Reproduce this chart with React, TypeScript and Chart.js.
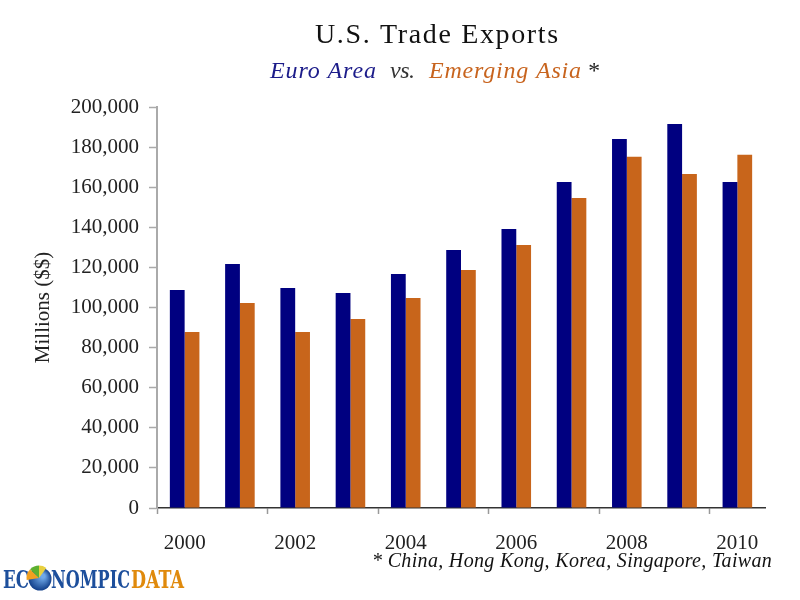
import { useEffect, useRef } from 'react';
import { Chart, registerables } from 'chart.js';

Chart.register(...registerables);

const years = ['2000', '2001', '2002', '2003', '2004', '2005', '2006', '2007', '2008', '2009', '2010'];
const euroArea = [108700, 121700, 109700, 107200, 116700, 128700, 139200, 162600, 184000, 191500, 162600];
const emergingAsia = [87800, 102200, 87800, 94300, 104700, 118700, 131200, 154600, 175200, 166600, 176200];
const yMin = 0;
const yMax = 200000;
const yStep = 20000;

const TITLE = 'U.S. Trade Exports';
const SUB_EURO = 'Euro Area';
const SUB_VS = 'vs.';
const SUB_ASIA = 'Emerging Asia';
const SUB_STAR = '*';
const FOOTNOTE = '* China, Hong Kong, Korea, Singapore, Taiwan';
const Y_TITLE = 'Millions ($$)';

const SERIF = '"Liberation Serif", "Times New Roman", serif';
const NAVY = '#000080';
const ORANGE = '#C8651B';

function fitText(ctx: CanvasRenderingContext2D, text: string, x: number, y: number, width: number) {
  (ctx as any).letterSpacing = '0px';
  ctx.textAlign = 'left';
  const w = ctx.measureText(text).width;
  const n = Math.max(1, text.length - 1);
  const ls = (width - w) / n;
  (ctx as any).letterSpacing = ls.toFixed(2) + 'px';
  ctx.fillText(text, x, y);
  (ctx as any).letterSpacing = '0px';
}

function scaleText(ctx: CanvasRenderingContext2D, text: string, x: number, y: number, width: number) {
  ctx.textAlign = 'left';
  const w = ctx.measureText(text).width;
  ctx.save();
  ctx.translate(x, y);
  ctx.scale(width / w, 1);
  ctx.fillText(text, 0, 0);
  ctx.restore();
}

const decor = {
  id: 'decor',
  afterDraw(chart: any) {
    const ctx: CanvasRenderingContext2D = chart.ctx;
    ctx.save();
    ctx.textBaseline = 'alphabetic';

    // Title
    ctx.font = `28px ${SERIF}`;
    ctx.fillStyle = '#111111';
    fitText(ctx, TITLE, 315, 43, 243);

    // Subtitle
    ctx.font = `italic 24px ${SERIF}`;
    ctx.fillStyle = '#1c1c8a';
    fitText(ctx, SUB_EURO, 270, 78, 106);
    ctx.fillStyle = '#333333';
    fitText(ctx, SUB_VS, 390, 78, 25);
    ctx.fillStyle = '#C8641E';
    fitText(ctx, SUB_ASIA, 429, 78, 152);
    ctx.fillStyle = '#222222';
    ctx.fillText(SUB_STAR, 587, 78);

    // Footnote
    ctx.font = `italic 20px ${SERIF}`;
    ctx.fillStyle = '#111111';
    fitText(ctx, FOOTNOTE, 372, 567, 400);

    // Logo
    ctx.font = `bold 24px "DejaVu Serif Condensed", "DejaVu Serif", serif`;
    ctx.fillStyle = '#1d4f9c';
    scaleText(ctx, 'EC', 3, 588, 26);
    scaleText(ctx, 'NOMPIC', 51, 588, 79);
    ctx.fillStyle = '#e08a0c';
    scaleText(ctx, 'DATA', 131, 588, 53);

    // Globe "O"
    const gx = 40, gy = 579, r = 11.5;
    const grad = ctx.createRadialGradient(gx + 3, gy - 3, 2, gx, gy, r);
    grad.addColorStop(0, '#6fa8e8');
    grad.addColorStop(1, '#123f8a');
    ctx.beginPath();
    ctx.arc(gx, gy, r, 0, Math.PI * 2);
    ctx.fillStyle = grad;
    ctx.fill();
    const wedge = (a0: number, a1: number, color: string) => {
      ctx.beginPath();
      ctx.moveTo(gx - 1, gy - 1);
      ctx.arc(gx - 1, gy - 1, r + 1, a0, a1);
      ctx.closePath();
      ctx.fillStyle = color;
      ctx.fill();
    };
    wedge(Math.PI * 0.95, Math.PI * 1.25, '#f0a020');
    wedge(Math.PI * 1.25, Math.PI * 1.5, '#5cb030');
    wedge(Math.PI * 1.5, Math.PI * 1.7, '#e8d040');

    ctx.restore();
  },
};

export default function App() {
  const canvasRef = useRef<HTMLCanvasElement | null>(null);

  useEffect(() => {
    document.body.style.margin = '0';
    const canvas = canvasRef.current;
    if (!canvas) return;
    const chart = new Chart(canvas, {
      type: 'bar',
      data: {
        labels: years,
        datasets: [
          {
            label: 'Euro Area',
            data: euroArea,
            backgroundColor: NAVY,
            borderWidth: 0,
            barPercentage: 1,
            categoryPercentage: 0.535,
          },
          {
            label: 'Emerging Asia',
            data: emergingAsia,
            backgroundColor: ORANGE,
            borderWidth: 0,
            barPercentage: 1,
            categoryPercentage: 0.535,
          },
        ],
      },
      options: {
        responsive: false,
        animation: false,
        layout: { padding: { top: 107, right: 35, left: 0, bottom: 0 } },
        plugins: {
          legend: { display: false },
          title: { display: false },
          tooltip: { enabled: false },
        },
        scales: {
          x: {
            grid: {
              offset: true,
              drawOnChartArea: false,
              drawTicks: true,
              tickLength: 6,
              tickWidth: 1.5,
              tickColor: (c: any) => (c.index !== undefined && c.index % 2 === 0 ? '#999999' : 'rgba(0,0,0,0)'),
            },
            border: { color: '#333333', width: 1.5 },
            ticks: {
              autoSkip: false,
              maxRotation: 0,
              minRotation: 0,
              padding: 17,
              color: '#222222',
              font: { family: SERIF, size: 21 },
              callback: (_v: any, i: number) => (i % 2 === 0 ? years[i] : ''),
            },
            afterFit: (s: any) => {
              s.height = 92;
            },
          },
          y: {
            min: yMin,
            max: yMax,
            ticks: {
              stepSize: yStep,
              padding: 10,
              color: '#222222',
              font: { family: SERIF, size: 21 },
              callback: (v: any) => Number(v).toLocaleString('en-US'),
            },
            grid: {
              drawOnChartArea: false,
              drawTicks: true,
              tickLength: 8,
              tickWidth: 1.5,
              tickColor: '#aaaaaa',
            },
            border: { color: '#aaaaaa', width: 2 },
            title: {
              display: true,
              text: Y_TITLE,
              color: '#222222',
              font: { family: SERIF, size: 21 },
              padding: { top: 31, bottom: 0 },
            },
            afterFit: (s: any) => {
              s.width = 157;
            },
          },
        },
      },
      plugins: [decor],
    });
    return () => chart.destroy();
  }, []);

  return (
    <div style={{ width: 800, height: 600 }}>
      <canvas ref={canvasRef} width={800} height={600} />
    </div>
  );
}
